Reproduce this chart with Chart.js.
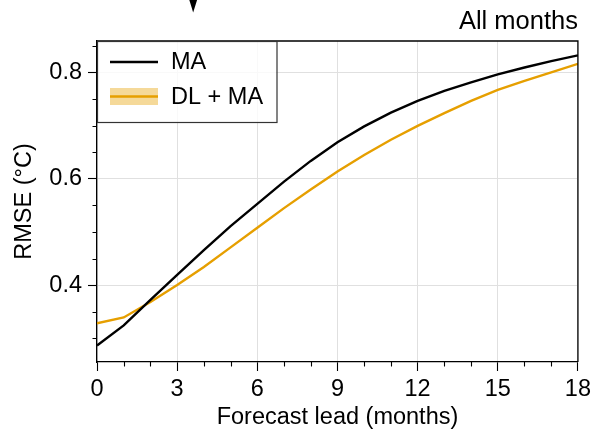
<!DOCTYPE html>
<html>
<head>
<meta charset="utf-8">
<script src="https://cdn.jsdelivr.net/npm/chart.js@4"></script>
<style>
    html, body { margin: 0; padding: 0; background: #fff; }
    #wrap { width: 595px; height: 433px; }
</style>
</head>
<body>
<div id="wrap"><canvas id="rmseChart" width="595" height="433"></canvas></div>
<script>
// forecast lead in months (x-axis)
const leads = [0, 1, 2, 3, 4, 5, 6, 7, 8, 9, 10, 11, 12, 13, 14, 15, 16, 17, 18];

// RMSE of the MA forecast
const maRmse = [0.286, 0.324, 0.372, 0.419, 0.466, 0.511, 0.553, 0.595, 0.634, 0.669, 0.699,
    0.725, 0.747, 0.766, 0.782, 0.797, 0.810, 0.822, 0.833];

// RMSE of the DL + MA forecast
const dlMaRmse = [0.328, 0.339, 0.368, 0.400, 0.434, 0.471, 0.508, 0.545, 0.580, 0.614, 0.645,
    0.674, 0.700, 0.724, 0.747, 0.768, 0.785, 0.801, 0.817];

// labelled ticks
const xMajorTicks = [0, 3, 6, 9, 12, 15, 18];
const yMajorTicks = [0.4, 0.6, 0.8];

// unlabelled small ticks
const xMinorTicks = [1, 2, 4, 5, 7, 8, 10, 11, 13, 14, 16, 17];
const yMinorTicks = [0.3, 0.35, 0.45, 0.5, 0.55, 0.65, 0.7, 0.75, 0.85];

// lead marked with the arrow above the panel
const markerLead = 3.6;

const legendLabels = ['MA', 'DL + MA'];
const panelTitle = 'All months';

const black = '#000000';
const orange = '#E69F00';
const fontFamily = '"Liberation Sans", Arial, Helvetica, sans-serif';

// pair leads with values
function toPoints (values) { return leads.map((lead, i) => ({x: lead, y: values[i]})); }

// frame, minor ticks, legend, title and arrow
const decorations = {
    id: 'decorations',
    afterDatasetsDraw (chart) {
        const {ctx, chartArea: area, scales: {x, y}} = chart;
        ctx.save();
        // top and right frame
        ctx.strokeStyle = black; ctx.lineWidth = 1.3;
        ctx.beginPath();
        ctx.moveTo(area.left, area.top); ctx.lineTo(area.right, area.top); ctx.lineTo(area.right, area.bottom);
        ctx.stroke();
        // minor ticks
        ctx.lineWidth = 1.1;
        ctx.beginPath();
        xMinorTicks.forEach((v) => { const px = Math.round(x.getPixelForValue(v)) + 0.5;
            ctx.moveTo(px, area.bottom); ctx.lineTo(px, area.bottom + 4.5); });
        yMinorTicks.forEach((v) => { const py = Math.round(y.getPixelForValue(v)) + 0.5;
            ctx.moveTo(area.left, py); ctx.lineTo(area.left - 4.5, py); });
        ctx.stroke();

        // legend box
        const bx = area.left, by = area.top, bw = 179.5, bh = 81;
        ctx.fillStyle = 'rgba(255,255,255,0.8)';
        ctx.fillRect(bx, by, bw, bh);
        ctx.strokeStyle = '#333'; ctx.lineWidth = 1.2;
        ctx.strokeRect(bx + 0.5, by + 0.5, bw, bh);
        // MA entry
        ctx.strokeStyle = black; ctx.lineWidth = 2.4;
        ctx.beginPath(); ctx.moveTo(bx + 13, by + 21); ctx.lineTo(bx + 61, by + 21); ctx.stroke();
        // DL + MA entry with its band
        ctx.fillStyle = 'rgba(230,159,0,0.4)';
        ctx.fillRect(bx + 13, by + 47, 48, 17);
        ctx.strokeStyle = orange;
        ctx.beginPath(); ctx.moveTo(bx + 13, by + 55.5); ctx.lineTo(bx + 61, by + 55.5); ctx.stroke();
        ctx.fillStyle = black;
        ctx.font = '23.5px ' + fontFamily;
        ctx.textBaseline = 'middle'; ctx.textAlign = 'left';
        ctx.fillText(legendLabels[0], bx + 74, by + 22);
        ctx.fillText(legendLabels[1], bx + 74, by + 56.5);

        // panel title
        ctx.font = '25.5px ' + fontFamily;
        ctx.textAlign = 'right'; ctx.textBaseline = 'alphabetic';
        ctx.fillText(panelTitle, area.right, 29);

        // arrow above the panel
        const mx = x.getPixelForValue(markerLead);
        ctx.beginPath();
        ctx.moveTo(mx - 4.5, -2); ctx.lineTo(mx + 4.5, -2); ctx.lineTo(mx, 12.5); ctx.closePath();
        ctx.fill();
        ctx.restore();
    }
};

const rmseChart = new Chart('rmseChart', {
    type: 'line',
    data: {
        datasets: [
            { label: legendLabels[0], data: toPoints(maRmse), borderColor: black, borderWidth: 2.4,
                pointRadius: 0, tension: 0, fill: false },
            { label: legendLabels[1], data: toPoints(dlMaRmse), borderColor: orange, borderWidth: 2.4,
                pointRadius: 0, tension: 0, fill: false }
        ]
    },
    options: {
        responsive: false,
        animation: false,
        layout: { padding: { top: 41, right: 17, left: 0, bottom: 0 } },
        plugins: { legend: { display: false }, title: { display: false }, tooltip: { enabled: false } },
        scales: {
            x: {
                type: 'linear', min: 0, max: 18,
                afterBuildTicks: (scale) => { scale.ticks = xMajorTicks.map((v) => ({value: v})); },
                afterFit: (scale) => { scale.height = 71; },
                ticks: { color: black, padding: 4, maxRotation: 0, autoSkip: false,
                    font: { family: fontFamily, size: 23.5 } },
                grid: { color: '#e0e0e0', lineWidth: 1, tickColor: black, tickLength: 9, tickWidth: 1.1 },
                border: { color: black, width: 1.3 },
                title: { display: true, text: 'Forecast lead (months)', color: black,
                    font: { family: fontFamily, size: 23.5 }, padding: { top: 0, bottom: 1 } }
            },
            y: {
                type: 'linear', min: 0.255, max: 0.86,
                afterBuildTicks: (scale) => { scale.ticks = yMajorTicks.map((v) => ({value: v})); },
                afterFit: (scale) => { scale.width = 97; },
                ticks: { color: black, padding: 6, callback: (v) => v.toFixed(1),
                    font: { family: fontFamily, size: 23.5 } },
                grid: { color: '#e0e0e0', lineWidth: 1, tickColor: black, tickLength: 9, tickWidth: 1.1 },
                border: { color: black, width: 1.3 },
                title: { display: true, text: 'RMSE (°C)', color: black,
                    font: { family: fontFamily, size: 23.5 }, padding: { top: 10, bottom: 0 } }
            }
        }
    },
    plugins: [decorations]
});
</script>
</body>
</html>
